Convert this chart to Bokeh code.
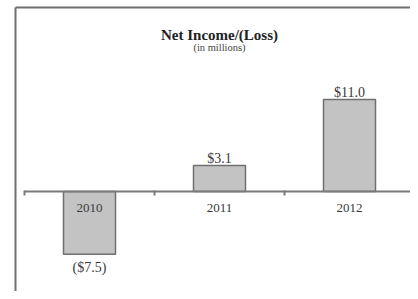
from bokeh.plotting import figure
from bokeh.models import ColumnDataSource, Range1d, FixedTicker, Label, LinearAxis
from bokeh.core.properties import value
from bokeh.embed import file_html
from bokeh.resources import INLINE

# data
years = ["2010", "2011", "2012"]
net_income = [-7.5, 3.1, 11.0]

def fmt(v):
    return f"${v:.1f}" if v >= 0 else f"(${abs(v):.1f})"

xs = [i + 0.5 for i in range(len(years))]
src = ColumnDataSource(dict(
    x=xs,
    top=[max(v, 0) for v in net_income],
    bottom=[min(v, 0) for v in net_income],
    val=net_income,
    label=[fmt(v) for v in net_income],
    off=[-7 if v >= 0 else 13 for v in net_income],
))

FONT = "Liberation Serif"
GRAY = "#7a7a7a"
PX_X = 130.0   # px per category
PX_Y = 8.36    # px per million
Y0 = 191       # px of zero line from top
W, H = 410, 291

xr = Range1d(-24 / PX_X, (W - 24) / PX_X)
yr = Range1d(-(H - Y0) / PX_Y, Y0 / PX_Y)

p = figure(width=W, height=H, output_backend="svg", toolbar_location=None,
           x_range=xr, y_range=yr,
           x_axis_location=None, y_axis_location=None,
           min_border_left=0, min_border_right=0, min_border_top=0, min_border_bottom=0)
p.outline_line_color = None
p.grid.visible = False
p.background_fill_color = "white"
p.border_fill_color = "white"

# frame border (left and top only, meeting at the corner)
bx = (15 - 24) / PX_X
by = (Y0 - 7) / PX_Y
p.segment(x0=[bx, bx], y0=[by, by], x1=[bx, xr.end + 1], y1=[yr.start - 1, by],
          line_color="#707070", line_width=2)

# bars
p.vbar(x="x", top="top", bottom="bottom", width=0.4, source=src,
       fill_color="#c3c3c3", line_color="#6f6f6f", line_width=1.5)

# baseline axis at zero; labels at category centres, ticks at category boundaries
xa = LinearAxis(ticker=FixedTicker(ticks=xs, minor_ticks=list(range(len(years) + 1))),
                fixed_location=0, bounds=(0, len(years)))
xa.major_label_overrides = {x: y for x, y in zip(xs, years)}
xa.axis_line_color = GRAY
xa.axis_line_width = 2
xa.major_tick_line_color = None
xa.major_tick_out = 0
xa.major_tick_in = 0
xa.minor_tick_line_color = GRAY
xa.minor_tick_line_width = 2
xa.minor_tick_out = 4
xa.minor_tick_in = 1
xa.major_label_standoff = 8
xa.major_label_text_font = FONT
xa.major_label_text_font_size = "13px"
xa.major_label_text_color = "#3a3a3a"
p.add_layout(xa, "below")

# value labels
p.text(x="x", y="val", text="label", source=src, y_offset="off",
       text_font=value(FONT), text_font_size="14px", text_color="#3a3a3a",
       text_align="center", text_baseline="alphabetic")

# titles
p.add_layout(Label(x=1.5, y=(Y0 - 34) / PX_Y, text="Net Income/(Loss)", text_font=FONT,
                   text_font_size="15px", text_font_style="bold", text_color="#222222",
                   text_align="center", text_baseline="alphabetic"))
p.add_layout(Label(x=1.5, y=(Y0 - 47) / PX_Y, text="(in millions)", text_font=FONT,
                   text_font_size="10.5px", text_color="#444444",
                   text_align="center", text_baseline="alphabetic"))

open("out.html", "w").write(file_html(p, INLINE))
